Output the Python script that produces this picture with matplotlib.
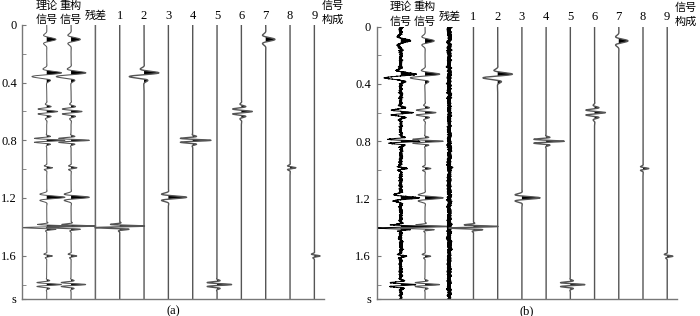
import numpy as np
import matplotlib.pyplot as plt
from matplotlib.transforms import blended_transform_factory

plt.rcParams['font.family'] = ['Liberation Serif', 'Noto Sans CJK SC']

# time samples (s)
t = np.arange(0, 1.9, 0.0005)

# wavelet events: component trace (1-9), time (s),
# amplitude (in trace spacings), frequency (Hz), envelope width (s), phase (deg)
ev_comp = [7, 2, 6, 4, 8, 3, 1, 9, 5]
ev_time = [0.10, 0.345, 0.60, 0.80, 0.99, 1.195, 1.40, 1.60, 1.80]
ev_amp = [0.38, 0.72, 0.45, 0.75, 0.24, 0.75, 1.15, 0.24, 0.60]
ev_freq = [14, 16.7, 28, 34, 32, 19, 40, 32, 34]
ev_width = [0.022, 0.024, 0.026, 0.016, 0.011, 0.017, 0.012, 0.010, 0.016]
ev_phase = [0, 90, 0, 0, 0, 0, 90, -30, 0]

head_labels = ['理论\n信号', '重构\n信号', '残差', '1', '2', '3', '4', '5', '6', '7', '8', '9']
ytick_vals = [0, 0.4, 0.8, 1.2, 1.6, 1.9]
ytick_text = ['0', '0.4', '0.8', '1.2', '1.6', 's']
noise_level = 0.035  # panel (b) additive noise, trace spacings


def gabor(t0, amp, f, w, ph):
    return amp * np.exp(-0.5 * ((t - t0) / w) ** 2) * np.cos(2 * np.pi * f * (t - t0) + np.deg2rad(ph))


comps = np.zeros((9, len(t)))
for c, t0, a, f, w, ph in zip(ev_comp, ev_time, ev_amp, ev_freq, ev_width, ev_phase):
    comps[c - 1] += gabor(t0, a, f, w, ph)
recon = comps.sum(axis=0)

# random noise for the noisy input in (b) (texture only)
rng = np.random.default_rng(3)
white = rng.normal(0, 1, len(t))
slow = np.convolve(rng.normal(0, 1, len(t)), np.ones(30) / np.sqrt(30), mode='same')
noise = noise_level * (0.9 * white + 0.35 * slow)


def wiggle(ax, x0, tr, color='#555555', lw=0.8):
    ax.plot(x0 + tr, t, color=color, lw=lw)
    ax.fill_betweenx(t, x0, x0 + tr, where=tr > 0, interpolate=True, color='black', lw=0)


fig = plt.figure(figsize=(7, 3.16), dpi=100)
panels = [
    ([0.032, 0.054, 0.431, 0.867], recon, np.zeros_like(t), '(a)'),
    ([0.538, 0.054, 0.429, 0.862], recon + noise, noise, '(b)'),
]

for rect, orig, resid, cap in panels:
    ax = fig.add_axes(rect)
    noisy = cap == '(b)'
    wiggle(ax, 1, orig, color='black' if noisy else '#555555', lw=0.7)
    wiggle(ax, 2, recon)
    wiggle(ax, 3, resid, color='black' if noisy else '#666666', lw=1.2 if noisy else 1.1)
    for k in range(9):
        wiggle(ax, 4 + k, comps[k], lw=1.0)

    ax.set_xlim(0, 12.4)
    ax.set_ylim(1.9, 0)
    ax.set_xticks([])
    ax.set_yticks(ytick_vals, ytick_text)
    ax.set_yticks([0.2, 0.6, 1.0, 1.4, 1.8], minor=True)
    ax.tick_params(axis='y', which='both', direction='in', length=3, color='#777777',
                   labelsize=9, pad=4)
    for s in ['top', 'right']:
        ax.spines[s].set_visible(False)
    for s in ['left', 'bottom']:
        ax.spines[s].set_color('#777777')
        ax.spines[s].set_linewidth(1.0)

    tr = blended_transform_factory(ax.transData, ax.transAxes)
    for i, lab in enumerate(head_labels):
        if '\n' in lab:
            ax.text(i + 1, 1.045, lab, transform=tr, ha='center', va='center',
                    fontsize=8, linespacing=1.45)
        else:
            ax.text(i + 1, 1.034, lab, transform=tr, ha='center', va='center',
                    fontsize=9 if lab.isdigit() else 8)
    ax.text(12.75, 1.045, '信号\n构成', transform=tr, ha='center', va='center',
            fontsize=8, linespacing=1.45)
    ax.text(0.5, -0.046, cap, transform=ax.transAxes, ha='center', va='center', fontsize=9)

fig.savefig('out.png', dpi=100)
